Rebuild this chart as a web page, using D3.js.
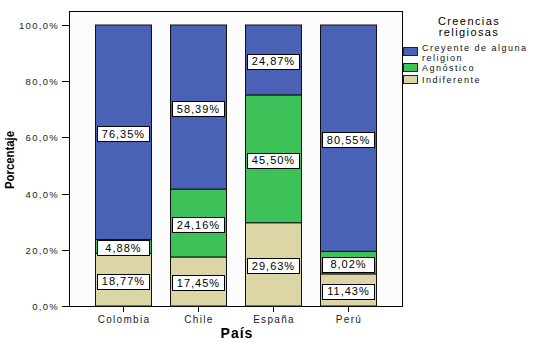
<!DOCTYPE html>
<html><head><meta charset="utf-8">
<script src="https://cdn.jsdelivr.net/npm/d3@7"></script>
<style>body{margin:0;background:#fff}svg{display:block}text{font-family:"Liberation Sans",Arial,sans-serif}</style>
</head><body><svg id="c" width="533" height="343"></svg>
<script>
const paises = ["Colombia","Chile","España","Perú"];
const series = ["Indiferente","Agnóstico","Creyente de alguna religion"];
const indiferente = [18.77,17.45,29.63,11.43];
const agnostico = [4.88,24.16,45.50,8.02];
const creyente = [76.35,58.39,24.87,80.55];
const yTicks = [0,20,40,60,80,100];
const yTickLabels = ["0,0%","20,0%","40,0%","60,0%","80,0%","100,0%"];
const colors = ["#dcd6a6","#3cc258","#4a62b6"];
const legendOrder = [2,1,0];
const legendLabels = [["Creyente de alguna","religion"],["Agnóstico"],["Indiferente"]];

const svg = d3.select("#c");
const x = d3.scaleBand().domain(paises).range([85.5,385.5]).paddingInner(0.253).paddingOuter(0.126);
const y = d3.scaleLinear().domain([0,100]).range([306,25]);

svg.append("rect").attr("x",69.5).attr("y",11.5).attr("width",333).attr("height",295)
  .attr("fill","#fcfcfc").attr("stroke","#000").attr("stroke-width",1);

const vals = [indiferente, agnostico, creyente];
const data = paises.map((p,i)=>{const o={pais:p};series.forEach((s,j)=>o[s]=vals[j][i]);return o;});
const stack = d3.stack().keys(series)(data);

const g = svg.append("g");
stack.forEach((layer,j)=>{
  g.selectAll(null).data(layer).join("rect")
    .attr("x",d=>Math.round(x(d.data.pais))+0.5)
    .attr("y",d=>y(d[1]))
    .attr("width",Math.round(x.bandwidth()))
    .attr("height",d=>y(d[0])-y(d[1]))
    .attr("fill",colors[j]).attr("stroke","#111").attr("stroke-width",1);
});
stack.forEach((layer,j)=>{
  layer.forEach(d=>{
    const cx = x(d.data.pais)+x.bandwidth()/2;
    const cy = (y(d[0])+y(d[1]))/2 + 1.5;
    const txt = d.data[series[j]].toFixed(2).replace(".",",")+"%";
    g.append("text").attr("x",cx+0.5).attr("y",cy+4).attr("text-anchor","middle")
      .attr("font-size",11).attr("letter-spacing",1).attr("fill","#000").text(txt);
    g.insert("rect","text").attr("x",Math.round(cx-26)+0.5).attr("y",Math.round(cy-7.5)+0.5)
      .attr("width",52).attr("height",15).attr("fill","#fff").attr("stroke","#000");
  });
});

// y axis
const ya = svg.append("g");
yTicks.forEach((v,i)=>{
  const yy = Math.round(y(v))+0.5;
  ya.append("line").attr("x1",62).attr("x2",69).attr("y1",yy).attr("y2",yy).attr("stroke","#000");
  ya.append("text").attr("x",59).attr("y",yy+3.5).attr("text-anchor","end")
    .attr("font-size",9.5).attr("letter-spacing",1.3).attr("fill","#222").text(yTickLabels[i]);
});
// x axis ticks
paises.forEach(p=>{
  const xx = Math.round(x(p)+x.bandwidth()/2)+0.5;
  svg.append("line").attr("x1",xx).attr("x2",xx).attr("y1",306).attr("y2",312).attr("stroke","#000");
  svg.append("text").attr("x",xx+0.5).attr("y",323).attr("text-anchor","middle")
    .attr("font-size",10).attr("letter-spacing",1.3).attr("fill","#222").text(p);
});
svg.append("text").attr("x",237).attr("y",338).attr("text-anchor","middle")
  .attr("font-size",14).attr("font-weight","bold").attr("letter-spacing",1).text("País");
svg.append("text").attr("transform","translate(14,160) rotate(-90)").attr("text-anchor","middle")
  .attr("font-size",13).attr("font-weight","bold").attr("textLength",58).attr("lengthAdjust","spacingAndGlyphs").text("Porcentaje");

// legend
const lg = svg.append("g");
lg.append("text").attr("x",469).attr("y",25).attr("text-anchor","middle").attr("font-size",11).attr("letter-spacing",1.4).text("Creencias");
lg.append("text").attr("x",469).attr("y",36).attr("text-anchor","middle").attr("font-size",11).attr("letter-spacing",1.4).text("religiosas");
const swY = [47,63,75];
const txY = [[51,61],[71],[83]];
legendOrder.forEach((k,i)=>{
  lg.append("rect").attr("x",403.5).attr("y",swY[i]+0.5).attr("width",14).attr("height",8)
    .attr("fill",colors[k]).attr("stroke","#222");
  legendLabels[i].forEach((l,m)=>{
    lg.append("text").attr("x",422).attr("y",txY[i][m]).attr("font-size",9).attr("letter-spacing",1.5).attr("fill","#111").text(l);
  });
});
</script></body></html>
